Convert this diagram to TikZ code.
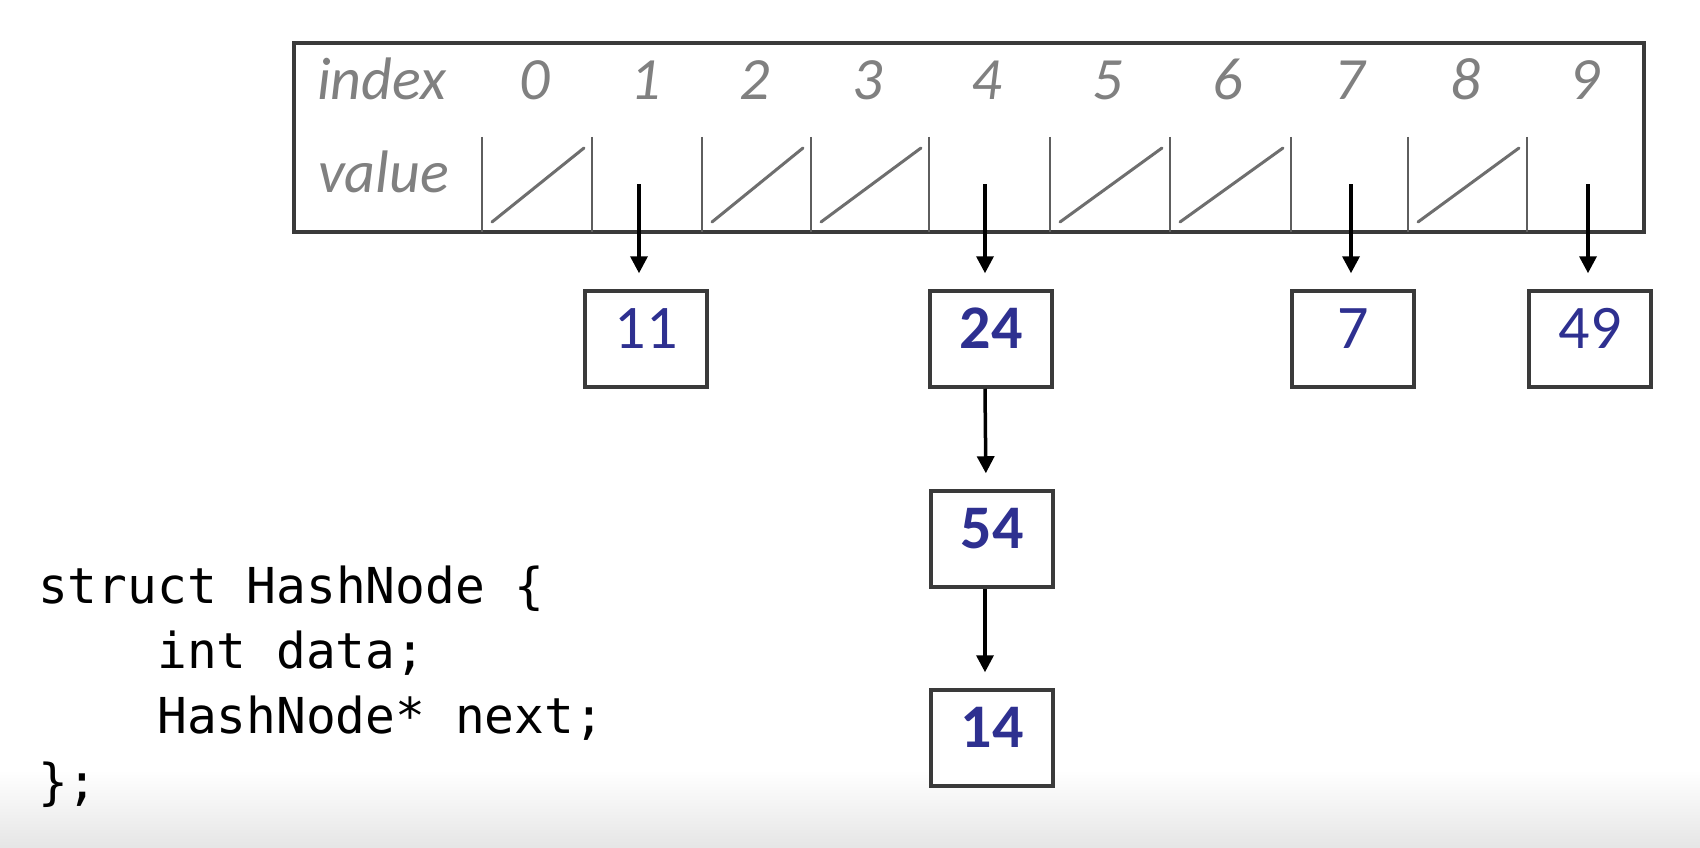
\documentclass[tikz,border=0pt]{standalone}
\usepackage{fontspec}
\setmainfont{Carlito}
\newfontfamily\codefont{DejaVu Sans Mono}
\usetikzlibrary{arrows.meta,calc}

\definecolor{labelgray}{HTML}{808080}
\definecolor{framegray}{HTML}{3A3A3A}
\definecolor{divgray}{HTML}{5E5E5E}
\definecolor{slashgray}{HTML}{6E6E6E}
\definecolor{numblue}{HTML}{2E3090}

\tikzset{
  labeltext/.style={inner sep=0pt, anchor=base, text=labelgray,
    font=\fontsize{60}{72}\selectfont\itshape},
  cell/.style={draw=divgray, line width=1.8pt},
  nullslash/.style={draw=slashgray, line width=3pt, line cap=round},
  listbox/.style={draw=framegray, line width=3.5pt, minimum width=122pt,
    minimum height=96pt, inner sep=0pt, fill=white},
  numtext/.style={inner sep=0pt, anchor=base, text=numblue,
    font=\fontsize{62}{72}\selectfont},
  codeline/.style={inner sep=0pt, anchor=base west,
    font=\codefont\fontsize{49.5}{65}\selectfont},
  ptr/.style={draw=black, line width=3.5pt,
    -{Triangle[length=17pt,width=17pt]}, shorten >=16pt},
}

\begin{document}
\begin{tikzpicture}[x=1pt,y=-1pt]
  \useasboundingbox (0,0) rectangle (1700,848);
  \fill[white] (0,0) rectangle (1700,848);
  % soft grey band along the bottom edge
  \shade[top color=white, bottom color=black!10] (0,770) rectangle (1700,848);

  % table frame
  \draw[draw=framegray, line width=3.5pt] (294,43) rectangle (1644,232);

  % row captions
  \node[labeltext, anchor=base west] (idxcap) at (317,100) {index};
  \node[labeltext, anchor=base west] (valcap) at (318,193) {value};

  % value cells: vertical dividers
  \foreach \x in {482,592,702,811,929,1050,1170,1291,1408,1527}
    \draw[cell] (\x,137) -- (\x,232);

  % index numbers over each cell
  \foreach \i/\cx in {0/535,1/646,2/755,3/868,4/987,5/1108,6/1228,7/1350,8/1466,9/1585}
    \node[labeltext] (idx\i) at (\cx,100) {\i};

  % empty buckets are struck through
  \foreach \l/\r in {482/592,702/811,811/929,1050/1170,1170/1291,1408/1527}
    \draw[nullslash] (\l+10,222) -- (\r-8,148);

  % list nodes
  \node[listbox] (b11) at (646,339) {};
  \node[listbox] (b24) at (991,339) {};
  \node[listbox] (b7)  at (1353,339) {};
  \node[listbox] (b49) at (1590,339) {};
  \node[listbox] (b54) at (992,539) {};
  \node[listbox] (b14) at (992,738) {};

  \node[numtext] (t11) at (646,348) {11};
  \node[numtext, font=\fontsize{62}{72}\selectfont\bfseries] (t24) at (991,348) {24};
  \node[numtext] (t7)  at (1353,348) {7};
  \node[numtext] (t49) at (1590,348) {49};
  \node[numtext, font=\fontsize{62}{72}\selectfont\bfseries] (t54) at (992,548) {54};
  \node[numtext, font=\fontsize{62}{72}\selectfont\bfseries] (t14) at (992,747) {14};

  % bucket pointers
  \coordinate (p1) at (639,184);
  \coordinate (p4) at (985,184);
  \coordinate (p7) at (1351,184);
  \coordinate (p9) at (1588,184);
  \draw[ptr] (p1) -- (p1 |- b11.north);
  \draw[ptr] (p4) -- (p4 |- b24.north);
  \draw[ptr] (p7) -- (p7 |- b7.north);
  \draw[ptr] (p9) -- (p9 |- b49.north);

  % chained nodes in bucket 4
  \draw[ptr] ([xshift=-6pt]b24.south) -- ([xshift=-6pt]b54.north);
  \draw[ptr] ([xshift=-7pt]b54.south) -- ([xshift=-7pt]b14.north);

  % node declaration
  \node[codeline] (c1) at (38,603) {struct HashNode \{};
  \node[codeline] (c2) at (157,668) {int data;};
  \node[codeline] (c3) at (157,733) {HashNode* next;};
  \node[codeline] (c4) at (38,799) {\};};
\end{tikzpicture}
\end{document}
